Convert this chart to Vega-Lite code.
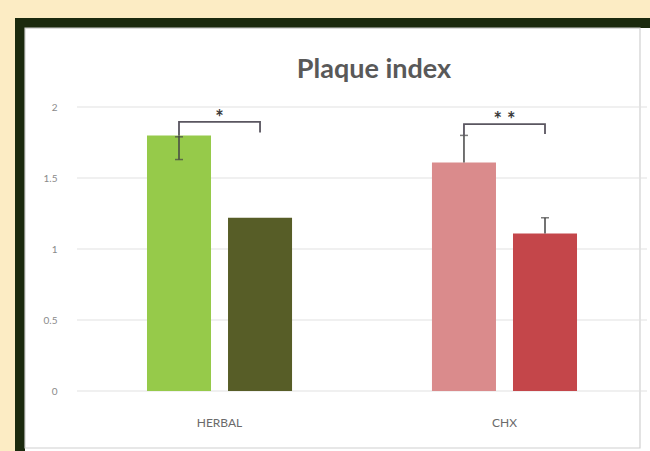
{
  "$schema": "https://vega.github.io/schema/vega-lite/v6.json",
  "width": 570,
  "height": 284,
  "autosize": "none",
  "padding": {"left": 77, "top": 107, "right": 3, "bottom": 60},
  "background": "#fcecc4",
  "title": {
    "text": "Plaque index",
    "font": "Lato",
    "fontSize": 27,
    "fontWeight": "bold",
    "color": "#595959",
    "anchor": "middle",
    "baseline": "alphabetic",
    "offset": -87,
    "dx": 12
  },
  "datasets": {
    "bars": [
      {"group": "HERBAL", "time": "before", "bar": "HERBAL before", "value": 1.8},
      {"group": "HERBAL", "time": "after", "bar": "HERBAL after", "value": 1.22},
      {"group": "CHX", "time": "before", "bar": "CHX before", "value": 1.61},
      {"group": "CHX", "time": "after", "bar": "CHX after", "value": 1.11}
    ],
    "errors": [
      {"group": "HERBAL", "time": "before", "lo": 1.63, "hi": 1.8},
      {"group": "CHX", "time": "before", "lo": 1.61, "hi": 1.8},
      {"group": "CHX", "time": "after", "lo": 1.11, "hi": 1.22}
    ],
    "caps": [
      {"group": "HERBAL", "time": "before", "y": 1.63},
      {"group": "HERBAL", "time": "before", "y": 1.79},
      {"group": "CHX", "time": "before", "y": 1.8},
      {"group": "CHX", "time": "after", "y": 1.22}
    ],
    "brackets": [
      {"bracket": "HERBAL", "group": "HERBAL", "time": "before", "y": 1.8, "ord": 0},
      {"bracket": "HERBAL", "group": "HERBAL", "time": "before", "y": 1.895, "ord": 1},
      {"bracket": "HERBAL", "group": "HERBAL", "time": "after", "y": 1.895, "ord": 2},
      {"bracket": "HERBAL", "group": "HERBAL", "time": "after", "y": 1.82, "ord": 3},
      {"bracket": "CHX", "group": "CHX", "time": "before", "y": 1.8, "ord": 0},
      {"bracket": "CHX", "group": "CHX", "time": "before", "y": 1.88, "ord": 1},
      {"bracket": "CHX", "group": "CHX", "time": "after", "y": 1.88, "ord": 2},
      {"bracket": "CHX", "group": "CHX", "time": "after", "y": 1.81, "ord": 3}
    ],
    "stars": [
      {"group": "HERBAL", "label": "*", "y": 1.95},
      {"group": "CHX", "label": "* *", "y": 1.94}
    ],
    "grid": [{"v": 0}, {"v": 0.5}, {"v": 1}, {"v": 1.5}, {"v": 2}]
  },
  "layer": [
    {
      "data": {"values": [{}]},
      "layer": [
        {
          "mark": {"type": "rect", "fill": "#ffffff", "stroke": "#1b2a0e", "strokeWidth": 10},
          "encoding": {
            "x": {"datum": -0.1, "type": "quantitative", "scale": {"domain": [0, 1], "nice": false, "zero": false}, "axis": null},
            "x2": {"datum": 1.06},
            "y": {"datum": 2.5915, "type": "quantitative", "scale": {"domain": [0, 2], "nice": false}, "title": null,
                  "axis": {"values": [0, 0.5, 1, 1.5, 2], "format": "~g", "grid": false, "domain": false, "ticks": false, "labelPadding": 20, "labelFont": "Lato", "labelFontSize": 10, "labelColor": "#8a8a8a", "title": null, "zindex": 2}},
            "y2": {"datum": -0.5}
          }
        },
        {
          "mark": {"type": "rect", "fill": null, "fillOpacity": 0, "stroke": "#d0d0d0", "strokeWidth": 1.2},
          "encoding": {
            "x": {"datum": -0.0912, "type": "quantitative"},
            "x2": {"datum": 0.9877},
            "y": {"datum": 2.556, "type": "quantitative", "title": null},
            "y2": {"datum": -0.4014}
          }
        }
      ]
    },
    {
      "layer": [
        {
          "data": {"name": "grid"},
          "mark": {"type": "rule", "color": "#e2e2e2", "strokeWidth": 1.2},
          "encoding": {
            "y": {"field": "v", "type": "quantitative", "title": null}
          }
        },
        {
          "data": {"name": "bars"},
          "mark": {"type": "bar"},
          "encoding": {
            "x": {"field": "group", "type": "nominal", "sort": ["HERBAL", "CHX"], "title": null,
                  "scale": {"paddingInner": 0.491, "paddingOuter": 0.2456},
                  "axis": {"orient": "bottom", "labelAngle": 0, "domain": false, "ticks": false, "labelPadding": 26, "labelFont": "Lato", "labelFontSize": 12, "labelColor": "#6a6a6a", "title": null, "zindex": 2}},
            "xOffset": {"field": "time", "type": "nominal", "sort": ["before", "after"], "scale": {"paddingInner": 0.21, "paddingOuter": 0}},
            "y": {"field": "value", "type": "quantitative", "title": null},
            "color": {"field": "bar", "type": "nominal", "legend": null,
                      "scale": {"domain": ["HERBAL before", "HERBAL after", "CHX before", "CHX after"], "range": ["#96ca4a", "#575d27", "#da8b8c", "#c4464a"]}}
          }
        },
        {
          "data": {"name": "errors"},
          "mark": {"type": "rule", "color": "#454545", "strokeWidth": 1.5},
          "encoding": {
            "x": {"field": "group", "type": "nominal", "sort": ["HERBAL", "CHX"]},
            "xOffset": {"field": "time", "type": "nominal", "sort": ["before", "after"]},
            "y": {"field": "lo", "type": "quantitative", "title": null},
            "y2": {"field": "hi"}
          }
        },
        {
          "data": {"name": "caps"},
          "mark": {"type": "tick", "color": "#454545", "size": 8, "thickness": 1.5, "orient": "horizontal"},
          "encoding": {
            "x": {"field": "group", "type": "nominal", "sort": ["HERBAL", "CHX"]},
            "xOffset": {"field": "time", "type": "nominal", "sort": ["before", "after"]},
            "y": {"field": "y", "type": "quantitative", "title": null}
          }
        },
        {
          "data": {"name": "brackets"},
          "mark": {"type": "line", "color": "#5a5660", "strokeWidth": 1.8},
          "encoding": {
            "x": {"field": "group", "type": "nominal", "sort": ["HERBAL", "CHX"]},
            "xOffset": {"field": "time", "type": "nominal", "sort": ["before", "after"]},
            "y": {"field": "y", "type": "quantitative", "title": null},
            "detail": {"field": "bracket"},
            "order": {"field": "ord", "type": "quantitative"}
          }
        },
        {
          "data": {"name": "stars"},
          "mark": {"type": "text", "font": "Lato", "fontSize": 20, "fontWeight": "bold", "color": "#3a3a3a", "baseline": "middle", "dy": 5},
          "encoding": {
            "x": {"field": "group", "type": "nominal", "sort": ["HERBAL", "CHX"]},
            "y": {"field": "y", "type": "quantitative", "title": null},
            "text": {"field": "label"}
          }
        }
      ]
    }
  ],
  "resolve": {"scale": {"x": "independent"}, "axis": {"x": "independent"}},
  "config": {"view": {"stroke": null}}
}
